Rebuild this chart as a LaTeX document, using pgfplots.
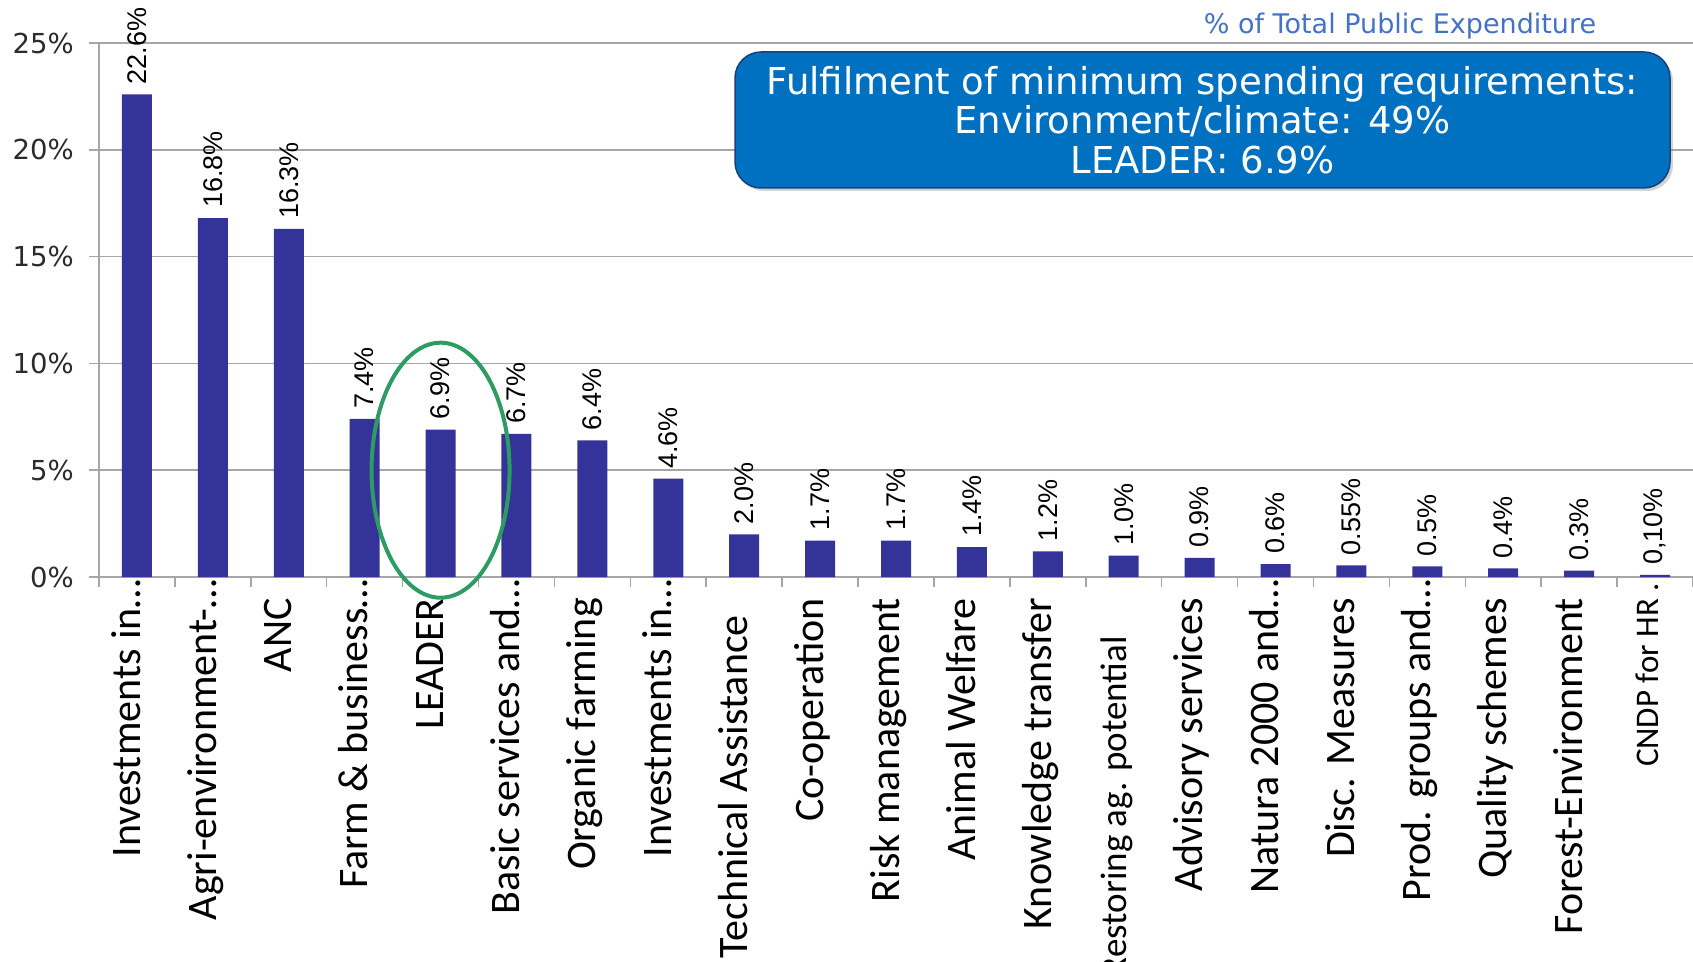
\documentclass[border=0pt]{standalone}
\usepackage{fontspec}
\setmainfont{Liberation Sans}
\newfontfamily\dejavu{DejaVu Sans}
\newfontfamily\carlito{Carlito}
\usepackage{pgfplots}
\usepackage{pgfplotstable}
\pgfplotsset{compat=1.18}
\usetikzlibrary{shadows}
\definecolor{barblue}{HTML}{333399}
\definecolor{boxblue}{HTML}{0070C0}
\definecolor{boxedge}{HTML}{17427A}
\definecolor{ellgreen}{HTML}{2E9B63}
\definecolor{titleblue}{HTML}{4472C4}
\definecolor{gridgray}{HTML}{A6A6A6}
\definecolor{darktext}{HTML}{2B2B2B}

\pgfplotstableread{
x y lab
0 22.6 22.6
1 16.8 16.8
2 16.3 16.3
3 7.4 7.4
4 6.9 6.9
5 6.7 6.7
6 6.4 6.4
7 4.6 4.6
8 2.0 2.0
9 1.7 1.7
10 1.7 1.7
11 1.4 1.4
12 1.2 1.2
13 1.0 1.0
14 0.9 0.9
15 0.6 0.6
16 0.55 0.55
17 0.5 0.5
18 0.4 0.4
19 0.3 0.3
20 0.10 0,10
}\data

\begin{document}
\begin{tikzpicture}
\useasboundingbox (0,0) rectangle (1693bp,962bp);
\begin{axis}[
  at={(99bp,385bp)}, anchor=south west,
  scale only axis, width=1594bp, height=534bp,
  xmin=-0.5, xmax=20.5, ymin=0, ymax=25,
  clip=false,
  ybar, bar width=30bp,
  axis x line*=bottom, axis y line*=left,
  axis line style={draw=gridgray, line width=1.5bp},
  tick align=outside, major tick length=10bp,
  tick style={draw=gridgray, line width=1.5bp},
  ytick={0,5,10,15,20,25},
  yticklabels={0\%,5\%,10\%,15\%,20\%,25\%},
  yticklabel style={font=\dejavu\fontsize{27.5bp}{31bp}\selectfont, text=darktext, anchor=east, inner sep=0pt, xshift=-15bp},
  ymajorgrids, grid style={draw=gridgray, line width=1.5bp},
  xtick={-0.5,0.5,...,20.5},
  xticklabels={},
  xticklabel style={font=\carlito\fontsize{42bp}{46bp}\selectfont, rotate=90, anchor=east, inner sep=0pt, text height=0.644em, text depth=0pt, text=black},
  xticklabel shift=21bp,
  extra x ticks={0,1,...,20},
  extra x tick labels={Investments in…\hspace*{-19bp}, Agri-environment-…\hspace*{-19bp}, ANC, Farm \& business…\hspace*{-19bp}, LEADER, Basic services and…\hspace*{-19bp}, Organic farming, Investments in…\hspace*{-19bp}, Technical Assistance\hspace*{17bp}, Co-operation, Risk management, Animal Welfare, Knowledge transfer, {\fontsize{37bp}{40bp}\selectfont Restoring ag. potential}\hspace*{38bp}, Advisory services, Natura 2000 and…\hspace*{-19bp}, Disc. Measures, Prod. groups and…\hspace*{-19bp}, Quality schemes, Forest-Environment, {\fontsize{33bp}{36bp}\selectfont CNDP for HR .}\hspace*{-15bp}},
  extra x tick style={grid=none, major tick length=0pt},
  point meta=explicit symbolic,
  nodes near coords={\pgfplotspointmeta\%},
  every node near coord/.append style={font=\fontsize{27bp}{30bp}\selectfont, rotate=90, anchor=west, inner xsep=10bp, text=black},
]
\addplot[fill=barblue, draw=none] table[x=x, y=y, meta=lab] {\data};
\coordinate (ell) at (axis cs:4,5);
\end{axis}
\draw[ellgreen, line width=4bp] (ell) ellipse [x radius=69bp, y radius=127.5bp];
\node[font=\dejavu\fontsize{27bp}{30bp}\selectfont, text=titleblue, inner sep=0pt] at (1400bp,936bp) {\% of Total Public Expenditure};
\draw[fill=boxblue, draw=boxedge, line width=1.5bp, rounded corners=26bp, drop shadow={shadow xshift=3bp, shadow yshift=-3bp, opacity=0.35}] (735bp,774bp) rectangle (1670bp,910bp);
\node[text=white, align=center, inner sep=0pt, font=\dejavu\fontsize{37bp}{39.5bp}\selectfont] at (1202.5bp,842bp) {Fulfilment of minimum spending requirements:\\Environment/climate: 49\%\\LEADER: 6.9\%};
\end{tikzpicture}
\end{document}
